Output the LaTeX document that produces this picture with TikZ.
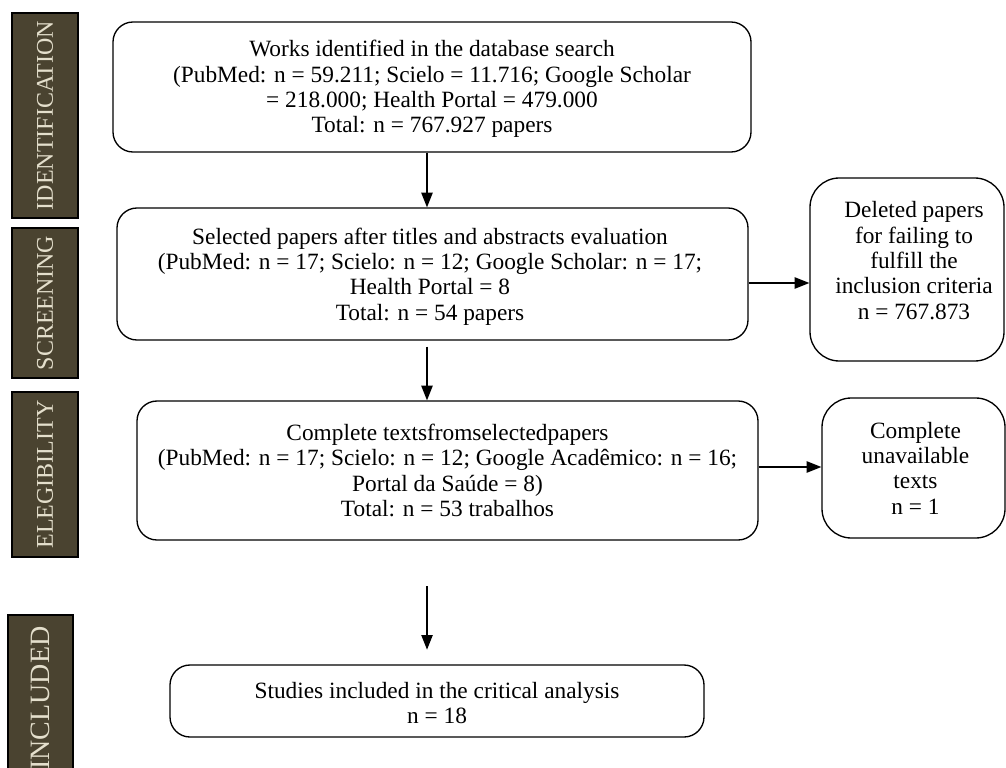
\documentclass[tikz,border=0pt]{standalone}
\usepackage{fontspec}
\setmainfont{Liberation Serif}
\usetikzlibrary{arrows.meta,calc}
\definecolor{olive}{HTML}{4A4330}
\definecolor{beige}{HTML}{E4DFCC}
\begin{document}
\begin{tikzpicture}[x=0.75pt,y=-0.75pt,
  mainbox/.style={draw=black,line width=1pt,rounded corners=15pt,align=center,
    font=\fontsize{17.5}{19}\selectfont,inner sep=0pt},
  sidebox/.style={draw=black,line width=1pt,rounded corners=22pt,align=center,
    font=\fontsize{17.5}{19}\selectfont,inner sep=0pt},
  phase/.style={draw=black,line width=0.8pt,fill=olive,text=beige,
    font=\fontsize{18}{20}\selectfont,rotate=90,inner sep=0pt},
  arr/.style={line width=1pt,-{Triangle[length=11pt,width=8.5pt]}}]
\useasboundingbox (0,0) rectangle (1006,767);
\begin{scope}
\clip (0,0) rectangle (1006,767);
% phase labels
\node[phase,minimum width=205*0.75pt,minimum height=66*0.75pt] (pid) at (45,115.5) {IDENTIFICATION};
\node[phase,minimum width=150*0.75pt,minimum height=66*0.75pt] (psc) at (45,303) {SCREENING};
\node[phase,minimum width=165*0.75pt,minimum height=66*0.75pt] (pel) at (45,474.5) {ELEGIBILITY};
\node[phase,minimum width=166*0.75pt,minimum height=65*0.75pt,font=\fontsize{21}{22}\selectfont] (pin) at (40.5,698) {INCLUDED};
\end{scope}
% main boxes
\node[mainbox,minimum width=638*0.75pt,minimum height=130*0.75pt] (b1) at (432,87) {};
\node[mainbox,align=center,draw=none] (t1) at (432,89)
 {Works identified in the database search\\(PubMed: n = 59.211; Scielo = 11.716; Google Scholar\\= 218.000; Health Portal = 479.000\\Total: n = 767.927 papers};
\node[mainbox,minimum width=631*0.75pt,minimum height=132*0.75pt] (b2) at (432.5,274) {};
\node[mainbox,draw=none] (t2) at (430,276.5)
 {Selected papers after titles and abstracts evaluation\\(PubMed: n = 17; Scielo: n = 12; Google Scholar: n = 17;\\Health Portal = 8\\Total: n = 54 papers};
\node[mainbox,minimum width=621*0.75pt,minimum height=139*0.75pt] (b3) at (447.5,470.5)
 {Complete textsfromselectedpapers\\(PubMed: n = 17; Scielo: n = 12; Google Acadêmico: n = 16;\\Portal da Saúde = 8)\\Total: n = 53 trabalhos};
\node[mainbox,minimum width=534*0.75pt,minimum height=72*0.75pt] (b4) at (437,701) {};
\node[mainbox,draw=none] (t4) at (437,703)
 {Studies included in the critical analysis\\n = 18};
\node[sidebox,minimum width=194*0.75pt,minimum height=183*0.75pt] (del) at (907,269.5) {};
\node[sidebox,draw=none] (tdel) at (914,260.5)
 {Deleted papers\\for failing to\\fulfill the\\inclusion criteria\\n = 767.873};
\node[sidebox,minimum width=183*0.75pt,minimum height=140*0.75pt] (una) at (913.5,468) {};
\node[sidebox,draw=none] (tuna) at (915.5,468)
 {Complete\\unavailable\\texts\\n = 1};
% arrows
\coordinate (ax) at (427,0);
\coordinate (ay1) at (0,283);
\coordinate (ay2) at (0,467);
\coordinate (a3s) at (427,586);
\draw[arr] (b1.south -| ax) -- (b2.north -| ax);
\draw[arr,shorten <=4.5pt] (b2.south -| ax) -- (b3.north -| ax);
\draw[arr,shorten >=11pt] (a3s) -- (b4.north -| ax);
\draw[arr] (b2.east |- ay1) -- (del.west |- ay1);
\draw[arr] (b3.east |- ay2) -- (una.west |- ay2);
\end{tikzpicture}
\end{document}
